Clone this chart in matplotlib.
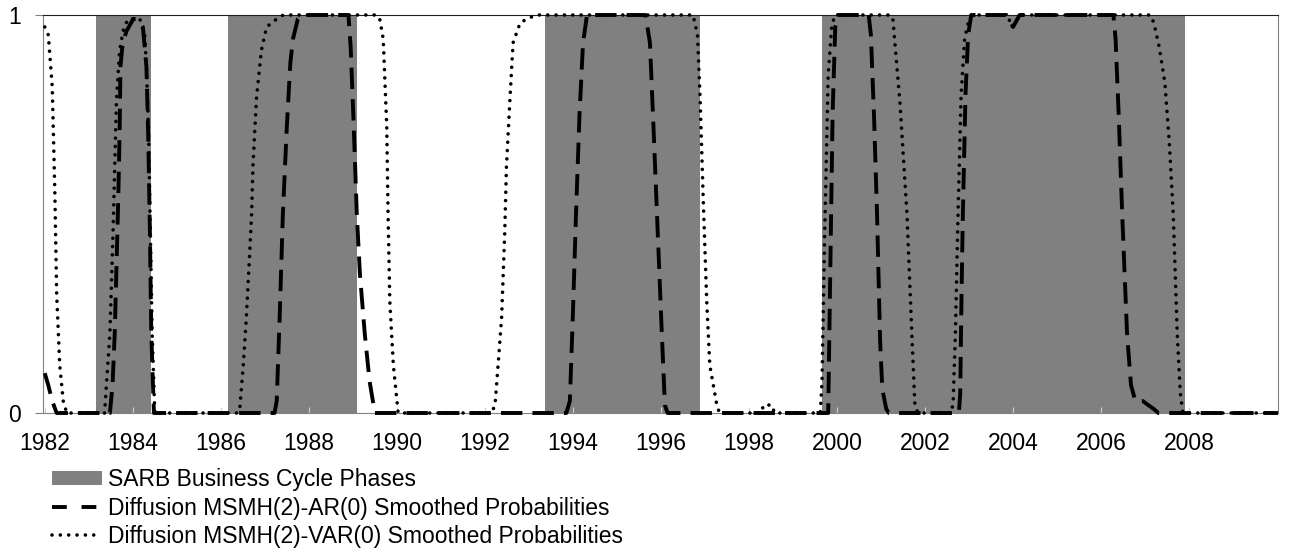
import numpy as np
import matplotlib
matplotlib.use('Agg')
import matplotlib.pyplot as plt
from matplotlib.patches import Patch
from matplotlib.lines import Line2D

plt.rcParams['font.family'] = ['Liberation Sans', 'DejaVu Sans']

## ------------------------------ data -----------------------------------

# SARB upswing phases (shaded), fractional years
phase_start = [1983.17, 1986.17, 1993.37, 1999.66]
phase_end = [1984.42, 1989.10, 1996.88, 2007.90]

# Diffusion MSMH(2)-AR(0) smoothed probabilities (dashed)
year_ar = [1982.00, 1982.08, 1982.17, 1982.27,
           1983.48, 1983.54, 1983.59, 1983.63, 1983.67, 1983.70, 1983.72, 1983.77, 1983.86, 1984.01,
           1984.08, 1984.23, 1984.31, 1984.35, 1984.39, 1984.42, 1984.48,
           1987.22, 1987.27, 1987.34, 1987.41, 1987.50, 1987.58, 1987.64, 1987.75, 1987.85,
           1988.90, 1988.95, 1989.02, 1989.09, 1989.16, 1989.27, 1989.38, 1989.50,
           1993.85, 1993.93, 1994.00, 1994.07, 1994.15, 1994.23, 1994.32,
           1995.65, 1995.75, 1995.83, 1995.91, 1996.02, 1996.09, 1996.15,
           1999.80, 1999.84, 1999.90, 1999.96, 2000.02,
           2000.72, 2000.77, 2000.84, 2000.91, 2000.98, 2001.03, 2001.12, 2001.18,
           2002.77, 2002.80, 2002.83, 2002.86, 2002.92, 2002.98, 2003.05,
           2003.85, 2004.00, 2004.15,
           2006.28, 2006.33, 2006.40, 2006.48, 2006.59, 2006.68, 2006.78, 2006.95, 2007.07, 2007.20, 2007.30,
           2010.02]
prob_ar = [0.10, 0.07, 0.03, 0.00,
           0.00, 0.07, 0.20, 0.37, 0.54, 0.70, 0.87, 0.93, 0.96, 0.99,
           0.99, 0.97, 0.87, 0.70, 0.45, 0.20, 0.00,
           0.00, 0.03, 0.25, 0.50, 0.72, 0.88, 0.94, 0.99, 1.00,
           1.00, 0.92, 0.72, 0.50, 0.35, 0.20, 0.08, 0.00,
           0.00, 0.03, 0.25, 0.50, 0.75, 0.93, 1.00,
           1.00, 0.93, 0.72, 0.50, 0.20, 0.02, 0.00,
           0.00, 0.30, 0.75, 0.97, 1.00,
           1.00, 0.95, 0.75, 0.50, 0.18, 0.06, 0.01, 0.00,
           0.00, 0.05, 0.30, 0.50, 0.80, 0.95, 1.00,
           1.00, 0.97, 1.00,
           1.00, 0.94, 0.75, 0.50, 0.20, 0.07, 0.03, 0.03, 0.02, 0.01, 0.00,
           0.00]

# Diffusion MSMH(2)-VAR(0) smoothed probabilities (dotted)
year_var = [1982.00, 1982.08, 1982.17, 1982.23, 1982.27, 1982.34, 1982.42, 1982.50,
            1983.36, 1983.40, 1983.48, 1983.55, 1983.59, 1983.63, 1983.70, 1983.78, 1983.89, 1984.01,
            1984.16, 1984.27, 1984.31, 1984.36, 1984.40, 1984.44, 1984.50,
            1986.38, 1986.43, 1986.51, 1986.58, 1986.66, 1986.70, 1986.73, 1986.81, 1986.92, 1987.04, 1987.27, 1987.42,
            1989.54, 1989.61, 1989.69, 1989.77, 1989.80, 1989.84, 1989.92, 1990.03,
            1992.15, 1992.23, 1992.30, 1992.38, 1992.45, 1992.49, 1992.57, 1992.64, 1992.80, 1992.95, 1993.17,
            1996.73, 1996.83, 1996.89, 1996.96, 1997.04, 1997.11, 1997.27, 1997.33,
            1998.28, 1998.33, 1998.52, 1998.58,
            1999.62, 1999.66, 1999.72, 1999.80, 1999.88, 1999.95,
            2001.22, 2001.27, 2001.43, 2001.59, 2001.70, 2001.77, 2001.84,
            2002.60, 2002.64, 2002.69, 2002.75, 2002.82, 2002.90, 2003.00, 2003.10,
            2003.85, 2004.00, 2004.15,
            2007.12, 2007.20, 2007.32, 2007.45, 2007.55, 2007.64, 2007.73, 2007.80, 2007.86,
            2010.02]
prob_var = [0.97, 0.95, 0.82, 0.55, 0.30, 0.12, 0.03, 0.00,
            0.00, 0.07, 0.20, 0.45, 0.62, 0.79, 0.91, 0.96, 0.99, 0.99,
            0.99, 0.95, 0.87, 0.70, 0.45, 0.20, 0.00,
            0.00, 0.01, 0.12, 0.24, 0.41, 0.50, 0.62, 0.79, 0.91, 0.97, 0.99, 1.00,
            1.00, 0.99, 0.94, 0.72, 0.50, 0.28, 0.12, 0.00,
            0.00, 0.02, 0.12, 0.24, 0.45, 0.62, 0.79, 0.93, 0.98, 0.99, 1.00,
            1.00, 0.95, 0.79, 0.54, 0.28, 0.12, 0.02, 0.00,
            0.00, 0.02, 0.02, 0.00,
            0.00, 0.08, 0.45, 0.85, 0.97, 1.00,
            1.00, 0.99, 0.78, 0.50, 0.20, 0.02, 0.00,
            0.00, 0.03, 0.20, 0.50, 0.80, 0.94, 0.99, 1.00,
            1.00, 0.97, 1.00,
            1.00, 0.98, 0.92, 0.83, 0.68, 0.50, 0.20, 0.05, 0.00,
            0.00]

tick_years = list(range(1982, 2009, 2))

labels = ['SARB Business Cycle Phases',
          'Diffusion MSMH(2)-AR(0) Smoothed Probabilities',
          'Diffusion MSMH(2)-VAR(0) Smoothed Probabilities']

## ------------------------------ plot -----------------------------------

fig = plt.figure(figsize=(12.89, 5.53), dpi=100)
ax = fig.add_axes([43 / 1289, 1 - 413 / 553, (1278 - 43) / 1289, (413 - 15) / 553])

shade = '#808080'
for s, e in zip(phase_start, phase_end):
    ax.axvspan(s, e, color=shade, lw=0, zorder=1)

ax.plot(year_ar, prob_ar, color='black', lw=2.8, zorder=3, clip_on=False,
        dashes=(5.5, 2.6), dash_capstyle='butt')
ax.plot(year_var, prob_var, color='black', lw=2.6, zorder=4, clip_on=False,
        dashes=(0.01, 2.3), dash_capstyle='round', solid_capstyle='round')

ax.set_xlim(1981.96, 2010.02)
ax.set_ylim(0, 1)
ax.set_xticks(tick_years)
ax.set_yticks([0, 1])
ax.tick_params(axis='x', direction='in', length=4, color='#d0d0d0', labelsize=16.5, pad=14)
ax.tick_params(axis='y', direction='out', length=6, color='#808080', labelsize=16.5, pad=10)

for side in ['left', 'right', 'bottom']:
    ax.spines[side].set_color('#808080')
ax.spines['top'].set_color('#202020')

# legend below the plot
handles = [Patch(facecolor=shade, edgecolor='none'),
           Line2D([], [], color='black', lw=2.8, dashes=(3.8, 3.8)),
           Line2D([], [], color='black', lw=2.6, dashes=(0.01, 2.3),
                  dash_capstyle='round')]
fig.legend(handles, labels, loc='upper left', bbox_to_anchor=(52 / 1289, 1 - 468 / 553),
           frameon=False, fontsize=16.5, handlelength=2.2, handleheight=0.55,
           handletextpad=0.25, labelspacing=0.24, borderpad=0, borderaxespad=0)

fig.savefig('out.png', dpi=100)
